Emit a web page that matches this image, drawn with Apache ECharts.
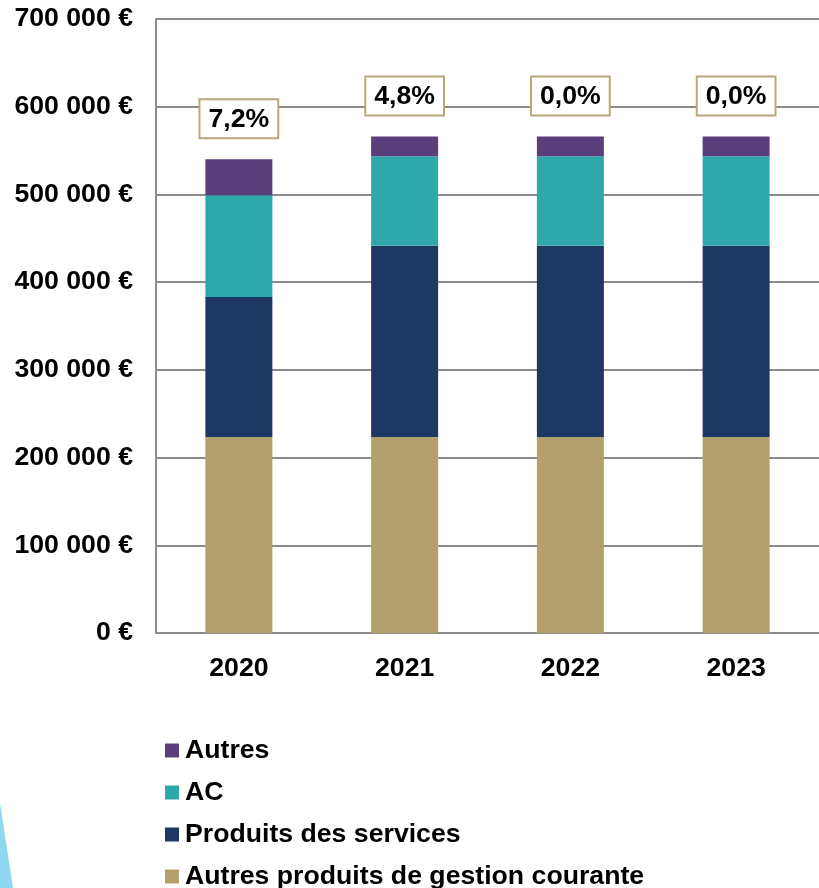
<!DOCTYPE html>
<html>
<head>
<meta charset="utf-8">
<script src="https://cdn.jsdelivr.net/npm/echarts@6/dist/echarts.min.js"></script>
<style>
html,body{margin:0;padding:0;background:#fff;}
#chart{width:819px;height:888px;}
</style>
</head>
<body>
<div id="chart"></div>
<script>
var categories = ['2020', '2021', '2022', '2023'];
var gestionCourante = [223500, 223500, 223500, 223500];
var produitsServices = [159500, 218000, 218000, 218000];
var acValues = [116000, 102000, 102000, 102000];
var autresValues = [41000, 22500, 22500, 22500];
var growthLabels = ['7,2%', '4,8%', '0,0%', '0,0%'];
var legendOrder = ['Autres', 'AC', 'Produits des services', 'Autres produits de gestion courante'];

var FONT = 'Liberation Sans, Arial, sans-serif';
var FS = 26.67;
var chart = echarts.init(document.getElementById('chart'), null, {renderer: 'canvas'});

function fmtEuro(v) {
  var s = String(Math.round(v)).replace(/\B(?=(\d{3})+(?!\d))/g, ' ');
  return s + ' €';
}

var legendTops = [737, 779, 821, 863];
var legends = legendOrder.map(function (name, i) {
  return {
    orient: 'vertical',
    left: 165,
    top: legendTops[i],
    padding: 0,
    itemWidth: 14,
    itemHeight: 14,
    icon: 'rect',
    textStyle: {fontFamily: FONT, fontWeight: 'bold', fontSize: FS, color: '#000', padding: [0, 0, 0, 1]},
    data: [name]
  };
});

var barW = 67;
var option = {
  backgroundColor: '#ffffff',
  animation: false,
  grid: {left: 156, top: 19, width: 671, height: 614, containLabel: false},
  legend: legends,
  xAxis: {
    type: 'category',
    data: categories,
    axisLine: {show: true, lineStyle: {color: '#8c8c8c', width: 2}},
    axisTick: {show: false},
    axisLabel: {fontFamily: FONT, fontWeight: 'bold', fontSize: FS, color: '#000', margin: 22}
  },
  yAxis: {
    type: 'value',
    min: 0,
    max: 700000,
    interval: 100000,
    axisLine: {show: true, lineStyle: {color: '#8c8c8c', width: 2}},
    axisTick: {show: false},
    splitLine: {show: true, lineStyle: {color: '#8c8c8c', width: 2}},
    axisLabel: {fontFamily: FONT, fontWeight: 'bold', fontSize: FS, color: '#000', margin: 23, formatter: fmtEuro}
  },
  series: [
    {name: 'Autres produits de gestion courante', type: 'bar', stack: 't', barWidth: barW, data: gestionCourante,
     itemStyle: {color: '#b3a06d'}},
    {name: 'Produits des services', type: 'bar', stack: 't', barWidth: barW, data: produitsServices,
     itemStyle: {color: '#1e3864'}},
    {name: 'AC', type: 'bar', stack: 't', barWidth: barW, data: acValues,
     itemStyle: {color: '#2fa8ac'}},
    {name: 'Autres', type: 'bar', stack: 't', barWidth: barW, data: autresValues,
     itemStyle: {color: '#5b3f7b'},
     label: {
       show: true,
       position: 'top',
       distance: 22,
       formatter: function (p) { return growthLabels[p.dataIndex]; },
       fontFamily: FONT, fontWeight: 'bold', fontSize: FS, color: '#000',
       lineHeight: 30,
       backgroundColor: '#ffffff',
       borderColor: '#b8a878',
       borderWidth: 2,
       padding: [4, 8, 3, 8]
     }}
  ],
  graphic: [
    {type: 'polygon', silent: true, z: 0,
     shape: {points: [[0, 803], [13, 888], [0, 888]]},
     style: {fill: '#8fd9f0'}}
  ]
};
chart.setOption(option);
</script>
</body>
</html>
